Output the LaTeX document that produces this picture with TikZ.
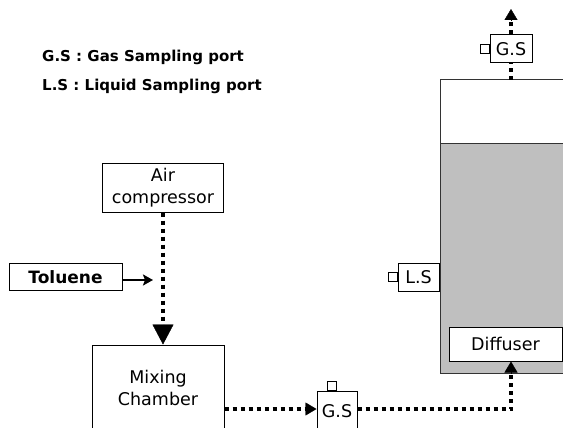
\documentclass[tikz,border=0pt]{standalone}
\usepackage{fontspec}
\setmainfont{DejaVu Sans}
\usetikzlibrary{arrows.meta}
\begin{document}
\begin{tikzpicture}[x=1pt,y=-1pt,
  box/.style={draw,line width=1pt,fill=white,inner sep=0pt,align=center,font=\fontsize{17.5}{21.5}\selectfont},
  port/.style={draw,line width=0.8pt,fill=white,inner sep=0pt,minimum width=9pt,minimum height=9pt},
  flow/.style={line width=3.6pt,dash pattern=on 4pt off 4pt},
  legend/.style={anchor=west,inner sep=0pt,font=\fontsize{15}{17}\selectfont\bfseries},
  tip/.style={-{Triangle[width=13pt,length=11pt]}},
  bigtip/.style={-{Triangle[width=21pt,length=20pt]}}]
\clip (0,0) rectangle (563,428);
\fill[white] (0,0) rectangle (563,428);
% legend
\node[legend] (leg1) at (42,57) {G.S : Gas Sampling port};
\node[legend] (leg2) at (42,86) {L.S : Liquid Sampling port};
% tank
\draw[line width=1pt,draw=black!80,fill=white] (440,80) rectangle (575,373);
\draw[line width=1pt,draw=black!80,fill=black!25] (440,144) rectangle (575,373);
\coordinate (tanktop) at (511,80);
\coordinate (toptip) at (511,9);
% nodes
\node[box,minimum width=121pt,minimum height=49pt] (comp) at (163,187.5) {Air\\compressor};
\node[box,minimum width=113pt,minimum height=27pt,font=\fontsize{17}{21}\selectfont\bfseries] (tol) at (65.5,277) {Toluene};
\node[box,minimum width=132pt,minimum height=86pt] (mix) at (158,388) {Mixing\\Chamber};
\node[box,minimum width=40pt,minimum height=40pt,text depth=0pt] (gs2) at (337,411) {G.S};
\node[port,anchor=south] (gs2p) at ([xshift=-5pt]gs2.north) {};
\node[box,minimum width=42pt,minimum height=28pt] (gs1) at (511,49) {G.S};
\node[port,anchor=east] (gs1p) at (gs1.west) {};
\node[box,minimum width=41pt,minimum height=28pt] (ls) at (418.5,277) {L.S};
\node[port,anchor=east] (lsp) at (ls.west) {};
\node[box,minimum width=113pt,minimum height=34pt] (diff) at (505.5,344) {Diffuser};
\coordinate (row) at (0,409);
\coordinate (tolend) at (153,280);
% connectors
\draw[flow] (comp.south) -- ([yshift=19pt]comp.south |- mix.north);
\draw[bigtip] ([yshift=20pt]comp.south |- mix.north) -- (comp.south |- mix.north);
\draw[line width=2.2pt,-{Stealth[length=10pt,width=11pt,inset=2pt]}] (tol.east |- tolend) -- (tolend);
\draw[flow] (row -| mix.east) -- ([xshift=-11pt]row -| gs2.west);
\draw[tip] ([xshift=-12pt]row -| gs2.west) -- (row -| gs2.west);
\draw[flow] (row -| gs2.east) -- (row -| gs1) -- ([yshift=-10pt]gs1 |- diff.south);
\draw[tip] ([yshift=-12pt]gs1 |- diff.south) -- (gs1 |- diff.south);
\draw[flow] (tanktop) -- (gs1.south);
\draw[flow] (gs1.north) -- ([yshift=-10pt]toptip);
\draw[tip] ([yshift=-11pt]toptip) -- (toptip);
\end{tikzpicture}
\end{document}
